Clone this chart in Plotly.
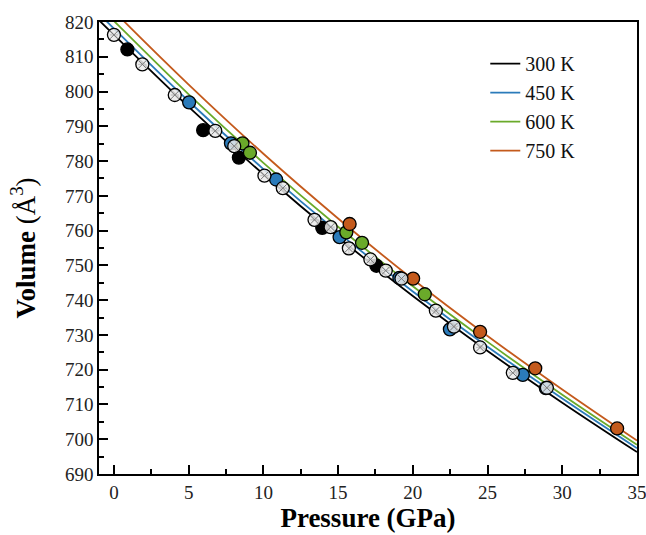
import plotly.graph_objects as go

# Fitted EOS curves
curve_p = [-1, 0, 5, 10, 15, 20, 25, 30, 35]
curve_300 = [820.5, 816.3, 795.6, 776.2, 758.1, 741.2, 725.4, 710.5, 696.3]
curve_450 = [822.4, 818.1, 797.2, 777.7, 759.5, 742.5, 726.6, 711.7, 697.4]
curve_600 = [824.6, 820.3, 799.2, 779.5, 761.1, 744.0, 728.0, 712.8, 698.4]
curve_750 = [827.5, 823.1, 802.0, 782.1, 763.5, 746.0, 729.7, 714.3, 699.6]

# Data points
open_p = [0.0, 1.9, 4.07, 6.78, 8.05, 10.07, 11.3, 13.42, 14.5, 15.72, 17.16, 18.19, 19.24, 21.54, 22.75, 24.5, 26.69, 28.97]
open_v = [816.3, 807.8, 799.0, 788.7, 784.3, 775.8, 772.2, 763.1, 761.0, 754.9, 751.7, 748.5, 746.2, 737.0, 732.4, 726.4, 719.1, 714.8]
open_err = [0, 0, 0, 0, 0, 0, 0, 0, 0, 1.6, 0, 0, 0, 0, 0, 0, 0, 0]

black_p = [0.9, 5.97, 8.36, 13.94, 17.56]
black_v = [812.1, 788.9, 781.0, 760.8, 749.9]
black_err = [0.6, 1.2, 0.5, 0.5, 0.4]

blue_p = [5.03, 7.83, 10.85, 15.1, 19.1, 22.48, 27.36, 28.9]
blue_v = [796.9, 785.1, 774.7, 758.1, 746.4, 731.6, 718.5, 714.7]
blue_err = [0.5, 0.6, 0.5, 0.6, 0.4, 0.6, 0.5, 0.4]

green_p = [8.6, 9.1, 15.55, 16.6, 20.8]
green_v = [785.1, 782.4, 759.5, 756.5, 741.7]
green_err = [0.6, 0.5, 0.7, 0.8, 0.5]

orange_p = [15.77, 20.02, 24.5, 28.19, 33.67]
orange_v = [761.9, 746.2, 730.9, 720.4, 703.1]
orange_err = [1.3, 1.0, 1.0, 1.0, 0.6]

labels = ["300 K", "450 K", "600 K", "750 K"]
colors = ["#000000", "#2b7bba", "#6aaa2a", "#c45a1c"]

x_ticks = [0, 5, 10, 15, 20, 25, 30, 35]
y_ticks = [690, 700, 710, 720, 730, 740, 750, 760, 770, 780, 790, 800, 810, 820]

fig = go.Figure()

for lab, col, vals in zip(labels, colors, [curve_300, curve_450, curve_600, curve_750]):
    fig.add_trace(go.Scatter(x=curve_p, y=vals, mode="lines", name=lab,
                             line=dict(color=col, width=1.8, shape="spline", smoothing=1.0)))

def add_pts(px, pv, perr, fill, symbol="circle"):
    fig.add_trace(go.Scatter(
        x=px, y=pv, mode="markers", showlegend=False,
        marker=dict(symbol=symbol, size=13, color=fill, line=dict(color="black", width=1.3)),
        error_y=dict(type="data", array=perr, visible=True, color="black", thickness=1, width=4),
        cliponaxis=False))

add_pts(black_p, black_v, black_err, "#000000")
add_pts(blue_p, blue_v, blue_err, colors[1])
add_pts(green_p, green_v, green_err, colors[2])
add_pts(orange_p, orange_v, orange_err, colors[3])
add_pts(open_p, open_v, open_err, "rgba(235,235,235,0.85)")
# hatch inside open circles
fig.add_trace(go.Scatter(x=open_p, y=open_v, mode="markers", showlegend=False, hoverinfo="skip",
                         marker=dict(symbol="x-thin", size=8, color="rgba(0,0,0,0)",
                                     line=dict(color="#777777", width=1))))

font_family = "Liberation Serif"
axis_common = dict(showline=True, linecolor="black", linewidth=1.5, mirror=True,
                   ticks="inside", ticklen=9, tickwidth=1.5, tickcolor="black",
                   showgrid=False, zeroline=False, automargin=False,
                   ticklabeloverflow="allow",
                   tickfont=dict(family=font_family, size=19, color="#222222"))

fig.update_layout(
    width=646, height=535,
    margin=dict(l=99, r=9, t=22, b=61),
    paper_bgcolor="white", plot_bgcolor="white",
    showlegend=True,
    legend=dict(x=0.718, y=0.951, xanchor="left", yanchor="top",
                font=dict(family=font_family, size=20, color="#111111"),
                bgcolor="rgba(0,0,0,0)", tracegroupgap=0, itemwidth=30),
    xaxis=dict(range=[-1, 35], tickmode="array", tickvals=x_ticks,
               minor=dict(dtick=2.5, tick0=0, ticks="inside", ticklen=5, tickwidth=1.5, tickcolor="black"),
               title=dict(text="<b>Pressure (GPa)</b>", font=dict(family=font_family, size=27, color="black"),
                          standoff=6),
               **axis_common),
    yaxis=dict(range=[690, 820], tickmode="array", tickvals=y_ticks,
               minor=dict(dtick=5, tick0=690, ticks="inside", ticklen=5, tickwidth=1.5, tickcolor="black"),
               title=dict(text="<b>Volume</b> (Å<sup>3</sup>)", font=dict(family=font_family, size=27, color="black"),
                          standoff=22),
               **axis_common),
)

fig.write_html("out.html", config={"displayModeBar": False},
               post_script="document.body.style.margin='0';document.body.style.overflow='hidden';")
